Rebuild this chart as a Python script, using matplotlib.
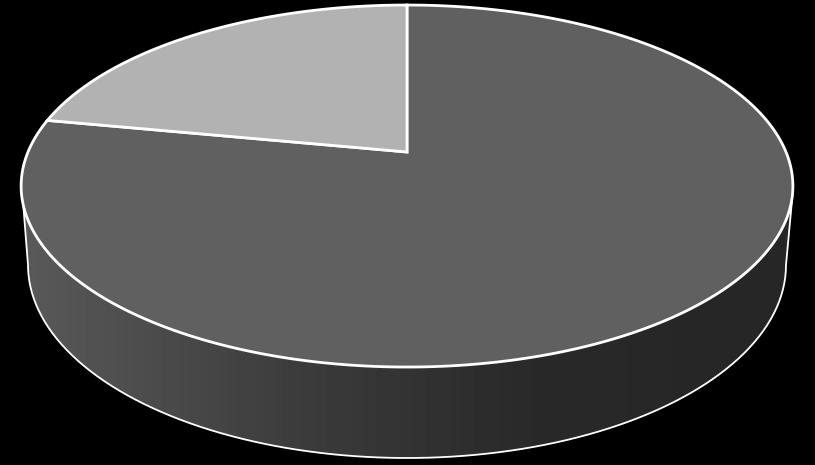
import numpy as np
import matplotlib.pyplot as plt

# 饼图数据
labels = ["A", "B"]
values = [78, 22]
colors = ["#606060", "#b2b2b2"]

# 侧面渐变 (x位置, 灰度)
side_x = [22, 120, 300, 410, 520, 700, 793]
side_gray = [0.35, 0.31, 0.235, 0.20, 0.165, 0.15, 0.15]

W, H = 815, 465
# 透视参数, 单位圆 -> 屏幕椭圆
cx, cy = 407, 186
K, A, B, C = 379, 181, 34, 0.188


def project(x, y):
    d = 1 + C * y
    return cx + K * x / d, cy - (A * y + B) / d


fig = plt.figure(figsize=(W / 100, H / 100), dpi=100, facecolor="black")
ax = fig.add_axes([0, 0, 1, 1])
ax.set_xlim(0, W)
ax.set_ylim(H, 0)
ax.axis("off")

# 侧面
t = np.linspace(0, np.pi, 200)
bx = 407 + 379 * np.cos(t)
by = 265 + 193 * np.sin(t)
side_px = np.r_[792.5, bx, 22.5]
side_py = np.r_[195, by, 195]
grad = np.interp(np.arange(W), side_x, side_gray)
im = ax.imshow(np.tile(grad, (2, 1)), cmap="gray", vmin=0, vmax=1,
               extent=(0, W, H, 0), aspect="auto", zorder=1)
poly = ax.fill(side_px, side_py, facecolor="none", edgecolor="none")[0]
im.set_clip_path(poly)
ax.plot(side_px, side_py, color="white", lw=1.3, zorder=2)

# 顶面扇形, 从12点顺时针
fracs = np.array(values) / sum(values)
start = 0.0
for frac, c in zip(fracs, colors):
    ang = 2 * np.pi * np.linspace(start, start + frac, 300)
    px, py = project(np.sin(ang), np.cos(ang))
    ox, oy = project(0, 0)
    ax.fill(np.r_[ox, px], np.r_[oy, py], facecolor=c, edgecolor="white",
            lw=2.0, joinstyle="miter", zorder=3)
    start += frac

fig.savefig("out.png", dpi=100, facecolor="black")
